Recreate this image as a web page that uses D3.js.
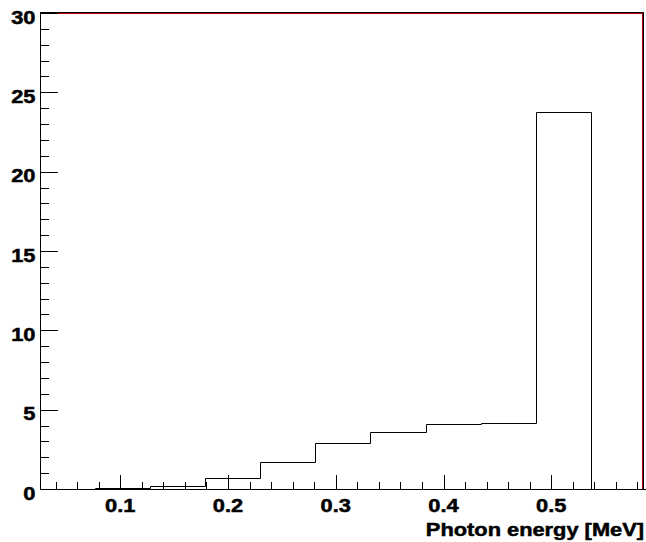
<!DOCTYPE html>
<html lang="en">
<head>
  <meta charset="UTF-8">
  <title>Photon energy</title>
  <script src="https://d3js.org/d3.v7.min.js"></script>
  <style>
    body { margin: 0; background: #fff; }
    .lbl { font-family: "Liberation Sans", Arial, sans-serif; font-weight: bold; font-size: 18.5px;
           fill: #000; stroke: #000; stroke-width: 0.5px; }
  </style>
</head>
<body>
  <svg id="chart" width="646" height="542"></svg>
  <script>
    // histogram bins (MeV) and counts
    const binLow = [0.0256, 0.0767, 0.1278, 0.1789, 0.2300, 0.2811, 0.3322, 0.3833, 0.4344, 0.4855, 0.5366];
    const binWidth = 0.0511;
    const counts = [0.0, 0.08, 0.19, 0.69, 1.68, 2.88, 3.57, 4.12, 4.14, 23.76, 0.0];
    const xTicks = [0.1, 0.2, 0.3, 0.4, 0.5];
    const yTicks = [0, 5, 10, 15, 20, 25, 30];

    const padL = 40, padR = 642, padT = 13, padB = 489;
    const stretch = 1.18; // labels are drawn a bit wider than the font
    const svg = d3.select("#chart");

    const x = d3.scaleLinear().domain([0.0255, 0.5842]).range([padL, padR]);
    const y = d3.scaleLinear().domain([0, 30]).range([padB, padT]);

    function label(px, py, anchor, txt) {
      return svg.append("text").attr("class", "lbl")
        .attr("transform", `translate(${px},${py}) scale(${stretch},1)`)
        .attr("text-anchor", anchor).text(txt);
    }

    // frame (red) with black edge
    svg.append("rect")
      .attr("x", padL + 0.5).attr("y", padT + 0.5)
      .attr("width", padR - padL).attr("height", padB - padT)
      .attr("fill", "none").attr("stroke", "#c00000").attr("stroke-width", 1);
    svg.append("line").attr("x1", padL).attr("x2", padR + 1)
      .attr("y1", padT - 0.5).attr("y2", padT - 0.5).attr("stroke", "#000");
    svg.append("line").attr("x1", padR + 1.5).attr("x2", padR + 1.5)
      .attr("y1", padT - 1).attr("y2", padB + 1).attr("stroke", "#000");

    // histogram outline
    const pts = [[x(binLow[0]), y(0)]];
    counts.forEach((c, i) => {
      pts.push([x(binLow[i]), y(c)]);
      pts.push([x(binLow[i] + binWidth), y(c)]);
    });
    pts.push([x(binLow[binLow.length - 1] + binWidth), y(0)]);
    svg.append("path")
      .attr("d", d3.line()(pts.map(p => [Math.round(p[0]) + 0.5, Math.round(p[1]) + 0.5])))
      .attr("fill", "none").attr("stroke", "#000").attr("stroke-width", 1);

    // x axis
    svg.append("line").attr("x1", padL).attr("x2", padR + 1)
      .attr("y1", padB + 0.5).attr("y2", padB + 0.5).attr("stroke", "#000");
    const xMinor = d3.range(0.04, 0.585, 0.02).filter(v => x(v) <= padR);
    svg.selectAll(".xminor").data(xMinor).enter().append("line")
      .attr("x1", d => Math.round(x(d)) + 0.5).attr("x2", d => Math.round(x(d)) + 0.5)
      .attr("y1", padB).attr("y2", d => {
        const major = xTicks.some(t => Math.abs(t - d) < 1e-6);
        return padB - (major ? 14 : 7);
      })
      .attr("stroke", "#000");
    xTicks.forEach(t => label(x(t), 512, "middle", d3.format(".1f")(t)));
    label(644, 535.5, "end", "Photon energy [MeV]");

    // y axis
    svg.append("line").attr("x1", padL + 0.5).attr("x2", padL + 0.5)
      .attr("y1", padT).attr("y2", padB + 1).attr("stroke", "#000");
    svg.selectAll(".ytick").data(d3.range(0, 31)).enter().append("line")
      .attr("x1", padL).attr("x2", d => padL + (d % 5 === 0 ? 18 : 9))
      .attr("y1", d => Math.round(y(d)) + 0.5).attr("y2", d => Math.round(y(d)) + 0.5)
      .attr("stroke", "#000");
    yTicks.forEach(t => label(35.5, y(t) + 10.5, "end", t));
  </script>
</body>
</html>
